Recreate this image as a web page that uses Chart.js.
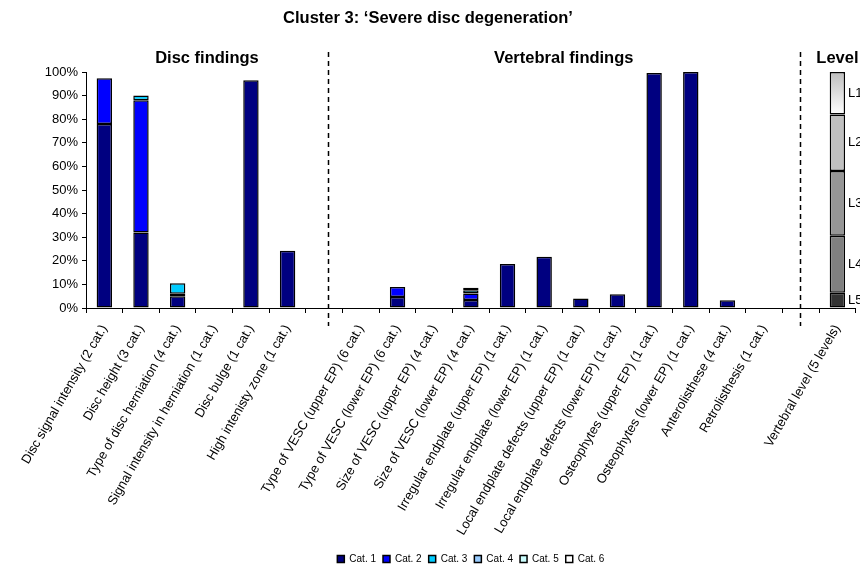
<!DOCTYPE html>
<html>
<head>
<meta charset="utf-8">
<script src="https://cdn.jsdelivr.net/npm/chart.js@4.4.1/dist/chart.umd.min.js"></script>
<style>
  body { margin: 0; background: #fff; }
  #wrap { width: 860px; height: 566px; }
</style>
</head>
<body>
<div id="wrap"><canvas id="chart" width="860" height="566"></canvas></div>
<script>
// --- Data ---
const categories = [
    'Disc signal intensity (2 cat.)', 'Disc height (3 cat.)', 'Type of disc herniation (4 cat.)',
    'Signal intensity in herniation (1 cat.)', 'Disc bulge (1 cat.)', 'High intenisty zone (1 cat.)',
    '',
    'Type of VESC (upper EP) (6 cat.)', 'Type of VESC (lower EP) (6 cat.)',
    'Size of VESC (upper EP) (4 cat.)', 'Size of VESC (lower EP) (4 cat.)',
    'Irregular endplate (upper EP) (1 cat.)', 'Irregular endplate (lower EP) (1 cat.)',
    'Local endplate defects (upper EP) (1 cat.)', 'Local endplate defects (lower EP) (1 cat.)',
    'Osteophytes (upper EP) (1 cat.)', 'Osteophytes (lower EP) (1 cat.)',
    'Anterolisthese (4 cat.)', 'Retrolisthesis (1 cat.)',
    '',
    'Vertebral level (5 levels)'
];

const cat1 = [78, 32, 5, null, 96.5, 24.3, null, null, 4.7, null, 3.4, 18.6, 21.7, 4, 5.8, 99.6, 100, 3.3, null, null, null];
const cat2 = [19.3, 56, 1, null, null, null, null, null, 4.2, null, 2.7, null, null, null, null, null, null, null, null, null, null];
const cat3 = [null, 2, 4.5, null, null, null, null, null, null, null, 1.4, null, null, null, null, null, null, null, null, null, null];
const cat4 = [null, null, null, null, null, null, null, null, null, null, 1.1, null, null, null, null, null, null, null, null, null, null];
const cat5 = Array(categories.length).fill(null);
const cat6 = Array(categories.length).fill(null);

// vertebral level shares (bottom to top: L5 ... L1)
const levelLabels = ['L5', 'L4', 'L3', 'L2', 'L1'];
const levelValues = [6.5, 24.1, 27.4, 24, 18];

const yTicks = [0, 10, 20, 30, 40, 50, 60, 70, 80, 90, 100];

const sections = [
    { text: 'Disc findings', from: -0.5, to: 6.1 },
    { text: 'Vertebral findings', from: 6.1, to: 18.97 },
    { text: 'Level', from: 20, to: 20 }
];
const dividers = [6.1, 18.97];

// --- Styles ---
const catColors = ['#000080', '#0000FF', '#00CCFF', '#99CCFF', '#CCFFFF', '#FFFFFF'];
const levelColors = ['#333333', '#808080', '#969696', '#C0C0C0', null];
const FONT = '"Liberation Sans", Arial, sans-serif';

Chart.defaults.font.family = FONT;
Chart.defaults.color = '#000';

const catSeries = [cat1, cat2, cat3, cat4, cat5, cat6];
const datasets = catSeries.map((data, i) => ({
    label: `Cat. ${i + 1}`,
    data: data,
    backgroundColor: catColors[i],
    borderColor: '#000',
    borderWidth: 1.5,
    borderSkipped: false
}));

const lastIdx = categories.length - 1;
levelLabels.forEach((lab, i) => {
    const data = Array(categories.length).fill(null);
    data[lastIdx] = levelValues[i];
    datasets.push({
        label: lab,
        isLevel: true,
        data: data,
        backgroundColor: (ctx) => {
            if (levelColors[i]) return levelColors[i];
            const chart = ctx.chart;
            const y = chart.scales && chart.scales.y;
            if (!y) return '#e0e0e0';
            const g = chart.ctx.createLinearGradient(0, y.getPixelForValue(100), 0, y.getPixelForValue(100 - levelValues[i]));
            g.addColorStop(0, '#bdbdbd');
            g.addColorStop(1, '#ffffff');
            return g;
        },
        borderColor: '#000',
        borderWidth: 1.5,
        borderSkipped: false
    });
});

// dashed dividers, section headings and level labels
const extrasPlugin = {
    id: 'extras',
    afterDraw(chart) {
        const { ctx, scales: { x, y } } = chart;
        ctx.save();

        ctx.strokeStyle = '#000';
        ctx.lineWidth = 1.5;
        ctx.setLineDash([5, 4]);
        dividers.forEach(v => {
            const px = Math.round(x.getPixelForValue(v)) + 0.5;
            ctx.beginPath();
            ctx.moveTo(px, 52);
            ctx.lineTo(px, 326);
            ctx.stroke();
        });
        ctx.setLineDash([]);

        ctx.font = 'bold 16.5px ' + FONT;
        ctx.fillStyle = '#000';
        ctx.textAlign = 'center';
        ctx.textBaseline = 'middle';
        sections.forEach(s => {
            const cx = (x.getPixelForValue(s.from) + x.getPixelForValue(s.to)) / 2;
            ctx.fillText(s.text, cx, 58);
        });

        ctx.font = '13px ' + FONT;
        ctx.textAlign = 'left';
        chart.data.datasets.forEach((ds, i) => {
            if (!ds.isLevel) return;
            const el = chart.getDatasetMeta(i).data[lastIdx];
            if (!el) return;
            ctx.fillText(ds.label, el.x + el.width / 2 + 3, (el.y + el.base) / 2);
        });
        ctx.restore();
    }
};

new Chart(document.getElementById('chart'), {
    type: 'bar',
    data: { labels: categories, datasets: datasets },
    plugins: [extrasPlugin],
    options: {
        responsive: false,
        animation: false,
        layout: { padding: { left: 0, right: 4, top: 0, bottom: -8 } },
        datasets: { bar: { categoryPercentage: 1, barPercentage: 0.42 } },
        plugins: {
            title: {
                display: true,
                text: 'Cluster 3: \u2018Severe disc degeneration\u2019',
                font: { size: 16.5, weight: 'bold' },
                color: '#000',
                padding: { top: 8.5, bottom: 43.7 }
            },
            legend: {
                position: 'bottom',
                fullSize: false,
                labels: {
                    font: { size: 10 },
                    boxWidth: 7,
                    boxHeight: 7,
                    padding: 7,
                    color: '#000',
                    filter: (item, data) => !data.datasets[item.datasetIndex].isLevel
                }
            },
            tooltip: { enabled: false }
        },
        scales: {
            x: {
                stacked: true,
                grid: { display: true, drawOnChartArea: false, tickLength: 5, color: '#000' },
                border: { color: '#000', width: 1 },
                ticks: {
                    autoSkip: false,
                    maxRotation: 60,
                    minRotation: 60,
                    padding: 9,
                    font: { size: 13 },
                    color: '#000'
                },
                afterFit: (scale) => { scale.height = 239; }
            },
            y: {
                stacked: true,
                min: 0,
                max: 100,
                afterBuildTicks: (scale) => { scale.ticks = yTicks.map(v => ({ value: v })); },
                grid: { display: true, drawOnChartArea: false, tickLength: 4, color: '#000' },
                border: { color: '#000', width: 1 },
                ticks: {
                    callback: (v) => v + '%',
                    font: { size: 13 },
                    padding: 4,
                    color: '#000'
                },
                afterFit: (scale) => { scale.width = 86; }
            }
        }
    }
});
</script>
</body>
</html>
